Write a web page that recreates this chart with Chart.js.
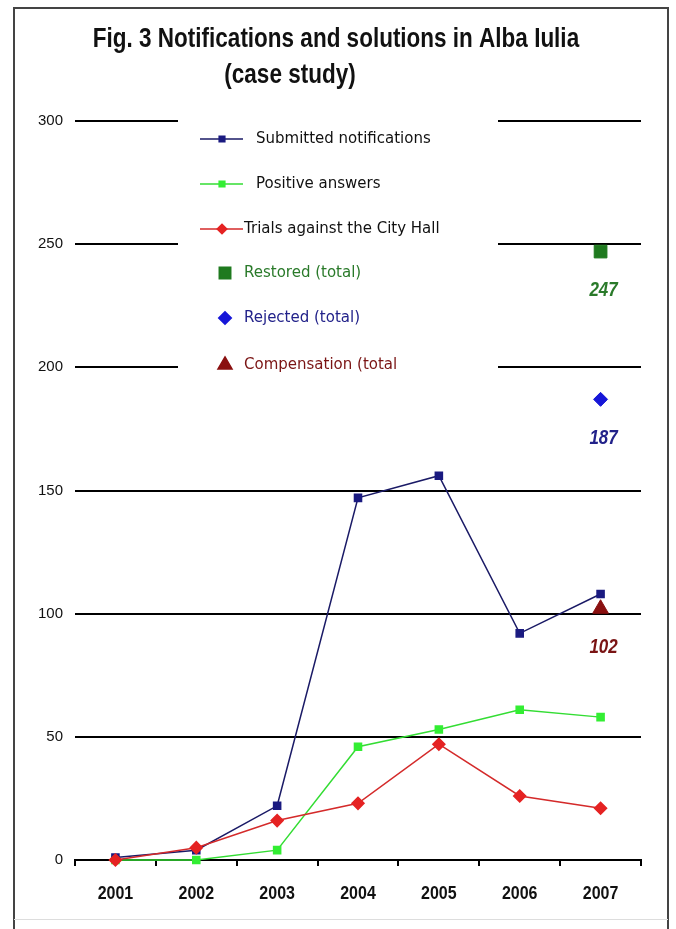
<!DOCTYPE html>
<html>
<head>
<meta charset="utf-8">
<script src="https://cdn.jsdelivr.net/npm/chart.js@4.4.1/dist/chart.umd.min.js"></script>
<style>
  html, body { margin: 0; padding: 0; background: #fff; }
  canvas { display: block; }
</style>
</head>
<body>
<canvas id="albaChart" width="676" height="929"></canvas>
<script>
const years = ['2001', '2002', '2003', '2004', '2005', '2006', '2007']
const submitted = [1, 4, 22, 147, 156, 92, 108]
const positive = [0, 0, 4, 46, 53, 61, 58]
const trials = [0, 5, 16, 23, 47, 26, 21]
const restored = [null, null, null, null, null, null, 247]
const rejected = [null, null, null, null, null, null, 187]
const compensation = [null, null, null, null, null, null, 102]
const titleLines = ['Fig. 3 Notifications and solutions in Alba Iulia', '(case study)']

const narrowFont = "'Liberation Sans Narrow', 'Liberation Sans', Arial"
const ctx = document.getElementById('albaChart').getContext('2d')

// frame, title, legend box, year labels and the value labels under the totals
const decorPlugin = {
  id: 'decor',
  beforeDraw(chart) {
    const c = chart.ctx
    c.save()
    c.fillStyle = '#fff'
    c.fillRect(0, 0, chart.width, chart.height)
    c.strokeStyle = '#444'
    c.lineWidth = 2
    c.beginPath()
    c.moveTo(14, 929)
    c.lineTo(14, 8)
    c.lineTo(668, 8)
    c.lineTo(668, 929)
    c.stroke()
    c.strokeStyle = '#ddd'
    c.lineWidth = 1
    c.beginPath()
    c.moveTo(14, 919.5)
    c.lineTo(668, 919.5)
    c.stroke()

    // title, a bit stretched like the original scan
    c.fillStyle = '#111'
    c.textAlign = 'center'
    c.textBaseline = 'alphabetic'
    c.font = 'bold 22.5px ' + narrowFont
    c.save()
    c.translate(336, 47)
    c.scale(1, 1.2)
    c.fillText(titleLines[0], 0, 0)
    c.restore()
    c.save()
    c.translate(290, 83)
    c.scale(1, 1.2)
    c.fillText(titleLines[1], 0, 0)
    c.restore()
    c.restore()
  },
  afterDraw(chart) {
    const c = chart.ctx
    c.save()

    // year labels placed on the category scale
    const xs = chart.scales.x
    c.fillStyle = '#111'
    c.font = 'bold 16px ' + narrowFont
    c.textAlign = 'center'
    c.textBaseline = 'alphabetic'
    chart.data.labels.forEach((lab, i) => {
      c.save()
      c.translate(xs.getPixelForTick(i), 899)
      c.scale(1, 1.2)
      c.fillText(lab, 0, 0)
      c.restore()
    })

    // white box behind the legend (cuts the grid lines)
    c.fillStyle = '#fff'
    c.fillRect(178, 108, 320, 278)

    const rows = [139, 184, 229, 273, 318, 365]
    c.font = "15px 'DejaVu Sans', Verdana, sans-serif"
    c.textBaseline = 'middle'
    c.textAlign = 'left'
    chart.data.datasets.forEach((ds, i) => {
      const y = rows[i]
      if (ds.showLine !== false) {
        c.strokeStyle = ds.borderColor
        c.lineWidth = ds.borderWidth
        c.beginPath()
        c.moveTo(200, y)
        c.lineTo(243, y)
        c.stroke()
        c.fillStyle = ds.pointBackgroundColor
        c.strokeStyle = ds.pointBorderColor
        Chart.helpers.drawPoint(c, { pointStyle: ds.pointStyle, rotation: 0, radius: ds.pointRadius * 0.8, borderWidth: 1 }, 222, y)
        c.fillStyle = '#111'
        c.fillText(ds.label, i === 2 ? 244 : 256, y)
      } else {
        c.fillStyle = ds.pointBackgroundColor
        c.strokeStyle = ds.pointBorderColor
        Chart.helpers.drawPoint(c, { pointStyle: ds.pointStyle, rotation: 0, radius: ds.pointRadius * 0.9, borderWidth: 1 }, 225, y)
        c.fillStyle = ds.labelColor
        c.fillText(ds.label, 244, y)
      }
    })

    // numbers under the 2007 totals
    c.font = 'italic bold 17px ' + narrowFont
    c.textAlign = 'center'
    chart.data.datasets.forEach((ds, i) => {
      if (ds.showLine !== false) return
      const meta = chart.getDatasetMeta(i)
      ds.data.forEach((v, j) => {
        if (v === null) return
        const pt = meta.data[j]
        c.fillStyle = ds.labelColor
        c.save()
        c.translate(pt.x + 3, pt.y + 39)
        c.scale(1, 1.2)
        c.fillText(String(v), 0, 0)
        c.restore()
      })
    })
    c.restore()
  }
}

new Chart(ctx, {
  type: 'line',
  data: {
    labels: years,
    datasets: [
      {
        label: 'Submitted notifications',
        data: submitted,
        borderColor: '#1a1a66',
        borderWidth: 1.5,
        pointStyle: 'rect',
        pointRadius: 5,
        pointBackgroundColor: '#1a1a80',
        pointBorderColor: '#1a1a80',
        tension: 0,
        clip: false,
        order: 2
      },
      {
        label: 'Positive answers',
        data: positive,
        borderColor: '#33dd33',
        borderWidth: 1.5,
        pointStyle: 'rect',
        pointRadius: 5,
        pointBackgroundColor: '#33ee33',
        pointBorderColor: '#33ee33',
        tension: 0,
        clip: false,
        order: 3
      },
      {
        label: 'Trials against the City Hall',
        data: trials,
        borderColor: '#d42a2a',
        borderWidth: 1.5,
        pointStyle: 'rectRot',
        pointRadius: 6,
        pointBackgroundColor: '#e52222',
        pointBorderColor: '#e52222',
        tension: 0,
        clip: false,
        order: 1
      },
      {
        label: 'Restored (total)',
        data: restored,
        showLine: false,
        pointStyle: 'rect',
        pointRadius: 9,
        pointBackgroundColor: '#1f7a1f',
        pointBorderColor: '#1f7a1f',
        labelColor: '#2a7a2a'
      },
      {
        label: 'Rejected (total)',
        data: rejected,
        showLine: false,
        pointStyle: 'rectRot',
        pointRadius: 7,
        pointBackgroundColor: '#1616d8',
        pointBorderColor: '#1616d8',
        labelColor: '#22228a'
      },
      {
        label: 'Compensation (total',
        data: compensation,
        showLine: false,
        pointStyle: 'triangle',
        pointRadius: 9,
        pointBackgroundColor: '#8a1010',
        pointBorderColor: '#8a1010',
        labelColor: '#7a1414'
      }
    ]
  },
  options: {
    responsive: false,
    animation: false,
    layout: {
      padding: { top: 121, right: 35, left: 0, bottom: 0 }
    },
    plugins: {
      legend: { display: false },
      title: { display: false },
      tooltip: { enabled: false }
    },
    scales: {
      x: {
        type: 'category',
        offset: true,
        afterFit: (scale) => { scale.height = 69 },
        grid: {
          offset: true,
          drawOnChartArea: false,
          drawTicks: true,
          tickLength: 6,
          color: '#000',
          lineWidth: 2
        },
        border: { display: true, color: '#000', width: 2 },
        ticks: {
          color: 'rgba(0,0,0,0)',
          padding: 16,
          font: { size: 16, weight: 'bold' }
        }
      },
      y: {
        min: 0,
        max: 300,
        afterFit: (scale) => { scale.width = 75 },
        grid: {
          color: '#000',
          lineWidth: 2,
          drawTicks: false
        },
        border: { display: false },
        ticks: {
          stepSize: 50,
          color: '#111',
          padding: 12,
          font: { family: "'Liberation Sans', Arial", size: 15 }
        }
      }
    }
  },
  plugins: [decorPlugin]
})
</script>
</body>
</html>
